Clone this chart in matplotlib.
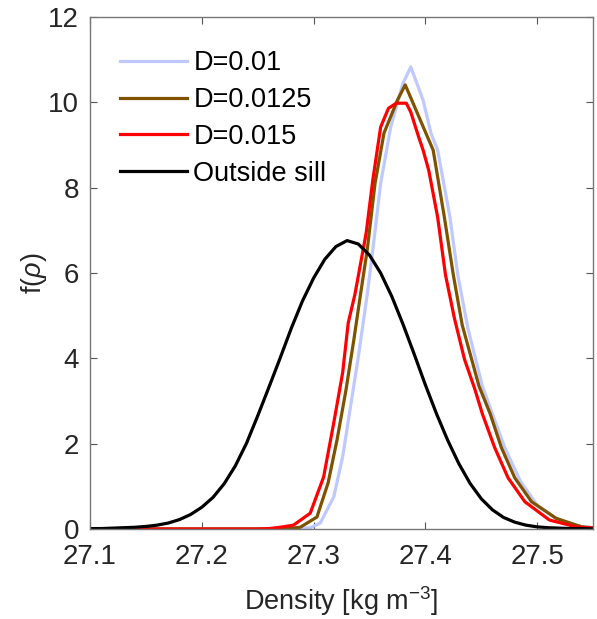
import matplotlib
matplotlib.use("Agg")
import matplotlib.pyplot as plt
import numpy as np

plt.rcParams['font.family'] = ['Liberation Sans', 'DejaVu Sans']
plt.rcParams['mathtext.fontset'] = 'custom'
plt.rcParams['mathtext.rm'] = 'Liberation Sans'
plt.rcParams['mathtext.it'] = 'Liberation Sans:italic'

# density pdfs for the three diffusivities
rho_d010 = [27.10, 27.28, 27.297, 27.306, 27.318, 27.326, 27.333, 27.340, 27.348, 27.353,
            27.360, 27.369, 27.380, 27.387, 27.398, 27.405, 27.411, 27.422, 27.429, 27.438,
            27.451, 27.460, 27.471, 27.485, 27.500, 27.519, 27.54, 27.55]
f_d010 = [0.0, 0.0, 0.03, 0.14, 0.75, 1.69, 2.86, 4.03, 5.50, 6.54,
          8.10, 9.42, 10.45, 10.83, 10.05, 9.28, 8.88, 7.31, 5.96, 4.71,
          3.35, 2.70, 1.91, 1.12, 0.56, 0.21, 0.05, 0.03]

rho_d0125 = [27.10, 27.27, 27.280, 27.288, 27.303, 27.313, 27.321, 27.329, 27.336, 27.342,
             27.348, 27.355, 27.363, 27.375, 27.382, 27.391, 27.407, 27.417, 27.425, 27.433,
             27.448, 27.458, 27.468, 27.480, 27.495, 27.517, 27.54, 27.55]
f_d0125 = [0.0, 0.0, 0.02, 0.04, 0.28, 1.08, 2.09, 3.26, 4.43, 5.50,
           6.54, 8.10, 9.28, 10.05, 10.41, 9.86, 8.88, 7.31, 5.96, 4.78,
           3.35, 2.70, 1.91, 1.20, 0.64, 0.25, 0.05, 0.03]

rho_d015 = [27.10, 27.25, 27.26, 27.270, 27.282, 27.297, 27.309, 27.318, 27.326, 27.331,
            27.337, 27.347, 27.353, 27.360, 27.367, 27.374, 27.383, 27.387, 27.394, 27.398,
            27.403, 27.411, 27.418, 27.426, 27.435, 27.444, 27.451, 27.462, 27.474, 27.489,
            27.511, 27.535, 27.55]
f_d015 = [0.0, 0.0, 0.01, 0.04, 0.09, 0.37, 1.22, 2.48, 3.66, 4.83,
          5.50, 6.93, 8.18, 9.42, 9.86, 9.98, 9.98, 9.77, 9.19, 8.88,
          8.41, 7.31, 5.96, 4.94, 3.98, 3.30, 2.70, 1.91, 1.20, 0.64,
          0.21, 0.05, 0.02]

# outside the sill, 0.01 spacing
rho_out = np.round(np.arange(27.10, 27.551, 0.01), 2)
f_out = [0.01, 0.01, 0.02, 0.03, 0.04, 0.06, 0.09, 0.14, 0.22, 0.34,
         0.51, 0.74, 1.06, 1.48, 2.01, 2.65, 3.32, 4.00, 4.70, 5.34,
         5.88, 6.32, 6.62, 6.76, 6.68, 6.42, 6.00, 5.45, 4.80, 4.10,
         3.38, 2.70, 2.08, 1.53, 1.07, 0.71, 0.45, 0.27, 0.16, 0.09,
         0.05, 0.03, 0.02, 0.01, 0.01, 0.0]

labels = ['D=0.01', 'D=0.0125', 'D=0.015', 'Outside sill']
colors = ['#bfc8ff', '#7f5200', '#ff0000', '#000000']

fig = plt.figure(figsize=(5.97, 6.19), dpi=100)
ax = fig.add_axes([0.1508, 0.1454, 0.8425, 0.8271])

ax.plot(rho_d010, f_d010, color=colors[0], lw=2.3, label=labels[0])
ax.plot(rho_d0125, f_d0125, color=colors[1], lw=2.3, label=labels[1])
ax.plot(rho_d015, f_d015, color=colors[2], lw=2.3, label=labels[2])
ax.plot(rho_out, f_out, color=colors[3], lw=2.3, label=labels[3])

ax.set_xlim(27.1, 27.55)
ax.set_ylim(0, 12)
ax.set_xticks([27.1, 27.2, 27.3, 27.4, 27.5])
ax.set_yticks([0, 2, 4, 6, 8, 10, 12])
ax.tick_params(direction='in', length=5, width=0.8, top=True, right=True,
               labelsize=20, labelcolor='#262626', color='#555555')
ax.tick_params(axis='x', pad=11)
ax.tick_params(axis='y', pad=8)
for s in ax.spines.values():
    s.set_color('#777777')
    s.set_linewidth(1.0)

ax.set_xlabel('Density [kg m$^{-3}$]', fontsize=19.5, color='#262626', labelpad=10)
ax.set_ylabel(r'f($\rho$)', fontsize=19.5, color='#262626', labelpad=-1)

ax.legend(loc='upper left', bbox_to_anchor=(0.06, 0.935), frameon=False,
          fontsize=19.5, handlelength=2.45, handletextpad=0.25, labelspacing=0.4,
          borderpad=0, borderaxespad=0)

fig.savefig('out.png', dpi=100)
